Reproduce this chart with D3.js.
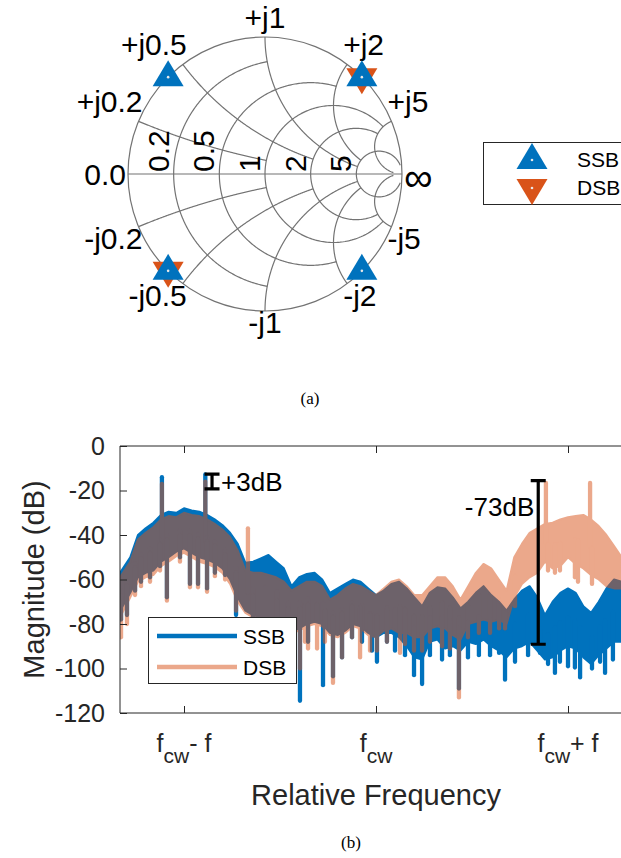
<!DOCTYPE html>
<html>
<head>
<meta charset="utf-8">
<script src="https://cdn.jsdelivr.net/npm/d3@7"></script>
<style>
body { margin: 0; background: #fff; }
svg { display: block; }
text { font-family: "Liberation Sans", Arial, sans-serif; }
</style>
</head>
<body>
<script>
//__smith chart data__//
var smithGrid = [0.2, 0.5, 1, 2, 5];
var smithGridEnd = [1, 2, 5, 5, 30];   // how far each circle / arc is drawn
var ssbGammaRe = [-0.707, 0.707, -0.707, 0.707];
var ssbGammaIm = [0.707, 0.707, -0.707, -0.707];
var dsbGammaRe = [0.707, -0.707];
var dsbGammaIm = [0.707, -0.707];
var seriesNames = ['SSB', 'DSB'];

//__spectrum data (relative frequency, dB)__//
var freq = [-1.333, -1.28, -1.24, -1.2, -1.16, -1.12, -1.08, -1.04, -1, -0.96,
  -0.92, -0.88, -0.84, -0.8, -0.76, -0.72, -0.68, -0.64, -0.6, -0.56,
  -0.52, -0.48, -0.44, -0.4, -0.36, -0.32, -0.28, -0.24, -0.2, -0.16,
  -0.12, -0.08, -0.04, 0, 0.04, 0.08, 0.12, 0.16, 0.2, 0.24,
  0.28, 0.32, 0.36, 0.4, 0.44, 0.48, 0.52, 0.56, 0.6, 0.64,
  0.68, 0.72, 0.76, 0.8, 0.84, 0.88, 0.92, 0.96, 1, 1.04,
  1.08, 1.12, 1.16, 1.2, 1.24, 1.28];
var ssbTop = [-57, -50, -40, -37, -34.5, -31, -29.5, -30, -28, -29,
  -29.5, -31, -33, -35.5, -39, -44, -52.5, -52, -50.5, -49,
  -52, -55, -63, -59, -57.5, -57, -60, -66, -64, -62,
  -60, -61, -64, -67, -65, -62, -61, -64, -68, -72,
  -66, -63.5, -64, -68, -73, -70, -66, -63, -67, -70,
  -74, -69, -65, -63, -68, -76, -70, -66, -64, -66,
  -72, -75, -70, -64, -60, -61];
var ssbBottom = [-74, -66, -59, -57, -56, -52, -50, -47.5, -46, -48,
  -50, -51, -52.5, -55, -60, -68, -74, -76, -77, -77,
  -78, -80, -83, -82, -80, -79, -80, -84, -85, -83,
  -80, -81, -84, -86, -84, -84, -86, -90, -95, -96,
  -88, -87, -91, -90, -92, -88, -89, -87, -90, -92,
  -95, -91, -90, -88, -92, -96, -95, -92, -90, -91,
  -95, -98, -94, -91, -88, -88];
var dsbTop = [-59, -52, -42, -39, -36.5, -33, -31.5, -32, -30, -31,
  -31.5, -33, -35, -37.5, -41, -47, -56, -57, -57, -58,
  -59, -61, -65, -63, -61, -61, -63, -69, -67, -64,
  -62, -63, -65, -67, -64, -61, -60, -63, -67, -67,
  -63, -59, -59, -63, -69, -63, -57, -53, -55, -60,
  -65, -50, -44, -39, -37, -35, -34.5, -33, -32, -31.5,
  -31, -33, -36, -40, -45, -50];
var dsbBottom = [-77, -68, -61, -59, -58, -54, -52, -49.5, -48, -50,
  -52, -53, -54.5, -57, -62, -70, -75, -77, -78, -78,
  -79, -81, -84, -83, -81, -80, -81, -85, -86, -84,
  -81, -82, -85, -86, -83, -82, -84, -84, -86, -86,
  -82, -81, -82, -85, -87, -80, -79, -78, -79, -78,
  -80, -68, -62, -59, -57, -52, -55, -54, -50, -53,
  -55, -58, -60, -63, -64, -64];

// narrow tones and dips that stick out of each band
var ssbSpikeF = [-1.115, -0.889, -1.328, -1.297, -1.255, -1.224, -1.177, -1.125, -1.089, -1.021,
  -0.969, -0.927, -0.88, -0.839, -0.786, -0.729, -0.641, -0.578, -0.516, -0.458,
  -0.396, -0.354, -0.276, -0.224, -0.177, -0.125, -0.073, -0.021, 0.005, 0.057,
  0.099, 0.151, 0.198, 0.24, 0.281, 0.344, 0.385, 0.432, 0.479, 0.536,
  0.594, 0.641, 0.672, 0.724, 0.792, 0.854, 0.896, 0.932, 0.958, 1,
  1.036, 1.063, 1.125, 1.167, 1.193, 1.234];
var ssbSpikeDb = [-14, -12.8, -78, -76, -65, -61, -59, -54, -68, -50,
  -62, -62, -64, -57, -58, -76, -80, -82, -84, -85,
  -114.5, -88, -107.5, -103.5, -95, -86, -88, -92, -97, -88,
  -92, -94, -103, -107, -94, -96, -94, -109, -95, -94,
  -94, -93, -105, -97, -94, -93, -98, -102, -97, -99,
  -99.6, -104, -100, -97, -102, -96];
var dsbSpikeF = [-1.115, -0.889, -0.667, 0.885, 1.115, -1.328, -1.297, -1.255, -1.224, -1.177,
  -1.125, -1.089, -1.021, -0.969, -0.927, -0.88, -0.839, -0.786, -0.729, -0.641,
  -0.516, -0.458, -0.396, -0.37, -0.354, -0.307, -0.266, -0.224, -0.177, -0.125,
  -0.083, -0.031, 0.005, 0.057, 0.125, 0.151, 0.198, 0.24, 0.281, 0.344,
  0.385, 0.432, 0.479, 0.536, 0.594, 0.641, 0.672, 0.724, 0.896, 0.932,
  0.958, 1.036, 1.052, 1.125];
var dsbSpikeDb = [-17, -16, -37, -16.6, -16.6, -86, -80, -67, -63, -61,
  -56, -69.5, -52, -63.5, -63.5, -65.5, -58.5, -60, -74, -76,
  -86, -84, -100, -88, -91, -91, -88, -106.5, -95, -86,
  -95, -92, -92, -88, -93, -89, -92, -92, -88, -90,
  -91, -113, -86, -84, -84, -82, -82, -72, -56, -57,
  -56, -59, -61, -62];

var yTicks = [0, -20, -40, -60, -80, -100, -120];
var xTicks = [-1, 0, 1];
var xTickMain = ['f', 'f', 'f'];
var xTickSub = ['cw', 'cw', 'cw'];
var xTickTail = ['- f', '', '+ f'];

// error bars drawn on the spectrum
var barF = [-0.854, 0.845];
var barHi = [-12.6, -15.6];
var barLo = [-19.3, -89.1];
var barText = ['+3dB', '-73dB'];

var blue = '#0072BD', orange = '#D95319', axisColor = '#262626';

var svg = d3.select('body').append('svg')
    .attr('width', 621)
    .attr('height', 858);
svg.append('rect').attr('width', 621).attr('height', 858).attr('fill', '#fff');

//__(a) smith chart__//
var cx = 265, cy = 174, R = 137;
var gx = d3.scaleLinear().domain([-1, 1]).range([cx - R, cx + R]);
var gy = d3.scaleLinear().domain([-1, 1]).range([cy + R, cy - R]);

function gamma(r, x) { // (z-1)/(z+1)
    var a = r - 1, c = r + 1, den = c * c + x * x;
    return [(a * c + x * x) / den, (x * c - a * x) / den];
}
function sweep(a, b, n) {
    return d3.range(n + 1).map(function (i) { return a + (b - a) * i / n; });
}

var smith = svg.append('g');
var gline = d3.line().x(function (d) { return gx(d[0]); }).y(function (d) { return gy(d[1]); });
var gridColor = '#737373';

smith.append('circle')
    .attr('cx', cx).attr('cy', cy).attr('r', R)
    .attr('fill', 'none').attr('stroke', gridColor).attr('stroke-width', 1.2);
smith.append('path')
    .attr('d', gline([[-1, 0], [1, 0]]))
    .attr('stroke', gridColor).attr('stroke-width', 1.2);

smithGrid.forEach(function (v, i) {
    var L = Math.atan(smithGridEnd[i]);
    var circ = sweep(-L, L, 300).map(function (t) { return gamma(v, Math.tan(t)); });
    smith.append('path').attr('d', gline(circ))
        .attr('fill', 'none').attr('stroke', gridColor).attr('stroke-width', 1.2);
    [v, -v].forEach(function (x) {
        var arc = sweep(0, L, 300).map(function (t) { return gamma(Math.tan(t), x); });
        smith.append('path').attr('d', gline(arc))
            .attr('fill', 'none').attr('stroke', gridColor).attr('stroke-width', 1.2);
    });
});

// resistance labels, rotated, just left of each circle on the real axis
smithGrid.forEach(function (v) {
    var px = gx(gamma(v, 0)[0]) - 5, py = cy - 2;
    smith.append('text')
        .attr('transform', 'translate(' + px + ',' + py + ') rotate(-90)')
        .attr('font-size', 30)
        .text(v);
});

// reactance labels round the rim
function rimLabel(txt, g, sinSign) {
    var px = gx(g[0]), py = gy(g[1]);
    var t = smith.append('text').attr('font-size', 30).text(txt);
    if (g[0] < -0.1) t.attr('text-anchor', 'end').attr('x', px + 4);
    else if (g[0] > 0.1) t.attr('text-anchor', 'start').attr('x', px - 4);
    else t.attr('text-anchor', 'middle').attr('x', px);
    t.attr('y', sinSign > 0 ? py - 9 : py + 22);
}
smithGrid.forEach(function (v) {
    rimLabel('+j' + v, gamma(0, v), 1);
    rimLabel('-j' + v, gamma(0, -v), -1);
});
smith.append('text').attr('x', gx(-1) - 2).attr('y', cy + 11)
    .attr('text-anchor', 'end').attr('font-size', 30).text('0.0');
smith.append('text').attr('x', gx(1) + 2).attr('y', cy + 17)
    .attr('font-size', 40).text('\u221e');

function triangle(x, y, up) {
    var s = up ? 1 : -1;
    return 'M' + x + ',' + (y - 17 * s) + 'L' + (x + 15.5) + ',' + (y + 9 * s) +
        'L' + (x - 15.5) + ',' + (y + 9 * s) + 'Z';
}
function marker(x, y, up, color) {
    smith.append('path').attr('d', triangle(x, y, up)).attr('fill', color);
    smith.append('circle').attr('cx', x).attr('cy', y).attr('r', 1.3).attr('fill', '#e8e8e8');
}
dsbGammaRe.forEach(function (re, i) { marker(gx(re), gy(dsbGammaIm[i]), false, orange); });
ssbGammaRe.forEach(function (re, i) { marker(gx(re), gy(ssbGammaIm[i]), true, blue); });

// legend (a)
smith.append('rect').attr('x', 483.5).attr('y', 142.5).attr('width', 150).attr('height', 62)
    .attr('fill', '#fff').attr('stroke', axisColor).attr('stroke-width', 1);
marker(532, 160, true, blue);
marker(532, 188, false, orange);
seriesNames.forEach(function (n, i) {
    smith.append('text').attr('x', 577).attr('y', 167 + i * 28).attr('font-size', 21).text(n);
});

svg.append('text').attr('x', 310).attr('y', 404).attr('text-anchor', 'middle')
    .style('font-family', '"Liberation Serif", "Times New Roman", serif').attr('font-size', 17).text('(a)');

//__(b) spectrum__//
var plotLeft = 120, plotRight = 632, plotTop = 446, plotBottom = 713;
var xb = d3.scaleLinear().domain([-4 / 3, 4 / 3]).range([plotLeft, plotRight]);
var yb = d3.scaleLinear().domain([-120, 0]).range([plotBottom, plotTop]);

svg.append('clipPath').attr('id', 'plotclip')
    .append('rect').attr('x', plotLeft).attr('y', plotTop)
    .attr('width', plotRight - plotLeft).attr('height', plotBottom - plotTop);
var plot = svg.append('g').attr('clip-path', 'url(#plotclip)');

function bandMid(f, lo, hi) {
    var i = Math.max(1, Math.min(freq.length - 1, d3.bisectLeft(freq, f)));
    var t = (f - freq[i - 1]) / (freq[i] - freq[i - 1]);
    return ((lo[i - 1] + hi[i - 1]) * (1 - t) + (lo[i] + hi[i]) * t) / 2;
}

function drawSeries(g, hiArr, loArr, spikeF, spikeDb, color) {
    var rows = freq.map(function (f, i) { return { f: f, hi: hiArr[i], lo: loArr[i] }; });
    var area = d3.area()
        .x(function (d) { return xb(d.f); })
        .y0(function (d) { return yb(d.lo); })
        .y1(function (d) { return yb(d.hi); });
    g.append('path').attr('d', area(rows))
        .attr('fill', color).attr('stroke', color).attr('stroke-width', 2).attr('stroke-linejoin', 'round');
    g.selectAll('line.spike').data(spikeF).enter().append('line')
        .attr('class', 'spike')
        .attr('x1', function (f) { return xb(f); })
        .attr('x2', function (f) { return xb(f); })
        .attr('y1', function (f) { return yb(bandMid(f, loArr, hiArr)); })
        .attr('y2', function (f, i) { return yb(spikeDb[i]); })
        .attr('stroke', color).attr('stroke-width', 4.3).attr('stroke-linecap', 'round');
}

drawSeries(plot.append('g'), ssbTop, ssbBottom, ssbSpikeF, ssbSpikeDb, blue);
drawSeries(plot.append('g').attr('opacity', 0.5), dsbTop, dsbBottom, dsbSpikeF, dsbSpikeDb, orange);

// axes box and ticks
var axes = svg.append('g');
axes.append('path')
    .attr('d', 'M' + plotRight + ',' + plotTop + 'H' + plotLeft + 'V' + plotBottom + 'H' + plotRight)
    .attr('fill', 'none').attr('stroke', axisColor).attr('stroke-width', 1);

var yAxis = axes.append('g').attr('transform', 'translate(' + plotLeft + ',0)')
    .call(d3.axisLeft(yb).tickValues(yTicks).tickSize(-7).tickPadding(15)
        .tickFormat(function (d) { return String(d); }));
yAxis.select('.domain').remove();
yAxis.selectAll('line').attr('stroke', axisColor);
yAxis.selectAll('text').attr('font-size', 25).attr('fill', axisColor)
    .style('font-family', '"Liberation Sans", Arial, sans-serif');

var xAxisB = axes.append('g').attr('transform', 'translate(0,' + plotBottom + ')')
    .call(d3.axisBottom(xb).tickValues(xTicks).tickSize(-7).tickFormat(''));
var xAxisT = axes.append('g').attr('transform', 'translate(0,' + plotTop + ')')
    .call(d3.axisTop(xb).tickValues(xTicks).tickSize(-7).tickFormat(''));
[xAxisB, xAxisT].forEach(function (a) {
    a.select('.domain').remove();
    a.selectAll('line').attr('stroke', axisColor);
});

xTicks.forEach(function (v, i) {
    var t = axes.append('text').attr('x', xb(v)).attr('y', 752)
        .attr('text-anchor', 'middle').attr('fill', axisColor).attr('font-size', 25);
    t.append('tspan').text(xTickMain[i]);
    t.append('tspan').attr('dy', 11).attr('font-size', 21).text(xTickSub[i]);
    if (xTickTail[i]) t.append('tspan').attr('dy', -11).text(xTickTail[i]);
});

axes.append('text').attr('x', xb(0)).attr('y', 805).attr('text-anchor', 'middle')
    .attr('fill', axisColor).attr('font-size', 29).text('Relative Frequency');
axes.append('text').attr('transform', 'translate(44,' + yb(-60) + ') rotate(-90)')
    .attr('text-anchor', 'middle').attr('fill', axisColor).attr('font-size', 29).text('Magnitude (dB)');

// error bar annotations
barF.forEach(function (f, i) {
    var x = xb(f);
    var bar = 'M' + x + ',' + yb(barHi[i]) + 'V' + yb(barLo[i]) +
        'M' + (x - 7.5) + ',' + yb(barHi[i]) + 'H' + (x + 7.5) +
        'M' + (x - 7.5) + ',' + yb(barLo[i]) + 'H' + (x + 7.5);
    svg.append('path').attr('d', bar).attr('fill', 'none')
        .attr('stroke', '#000').attr('stroke-width', 3.2);
});
svg.append('text').attr('x', xb(barF[0]) + 9).attr('y', 491)
    .attr('font-size', 26).text(barText[0]);
svg.append('text').attr('x', xb(barF[1]) - 4).attr('y', 516)
    .attr('text-anchor', 'end').attr('font-size', 26).text(barText[1]);

// legend (b)
var lg = svg.append('g');
lg.append('rect').attr('x', 148.5).attr('y', 617.5).attr('width', 148).attr('height', 66)
    .attr('fill', '#fff').attr('stroke', axisColor).attr('stroke-width', 1);
[blue, orange].forEach(function (c, i) {
    lg.append('line').attr('x1', 157).attr('x2', 237)
        .attr('y1', 636 + i * 31).attr('y2', 636 + i * 31)
        .attr('stroke', c).attr('stroke-width', 4.3).attr('opacity', i ? 0.5 : 1);
    lg.append('text').attr('x', 243).attr('y', 644 + i * 31)
        .attr('font-size', 21).attr('fill', '#000').text(seriesNames[i]);
});

svg.append('text').attr('x', 351).attr('y', 848).attr('text-anchor', 'middle')
    .style('font-family', '"Liberation Serif", "Times New Roman", serif').attr('font-size', 17).text('(b)');
</script>
</body>
</html>
